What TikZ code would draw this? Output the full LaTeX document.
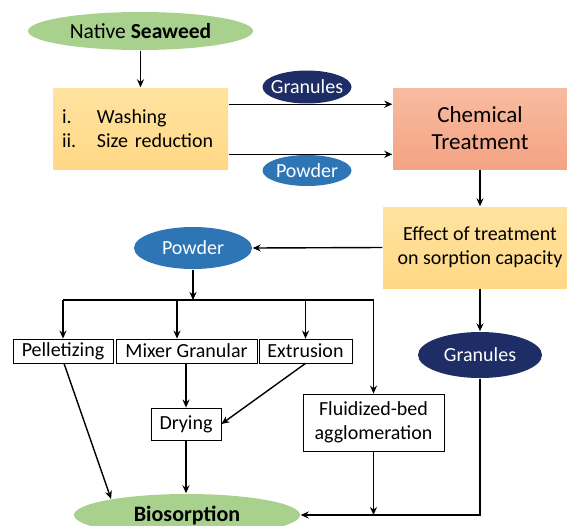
\documentclass[tikz,border=0pt]{standalone}
\usepackage{fontspec}
\setmainfont{Carlito}
\usetikzlibrary{shapes.geometric,arrows.meta}
\definecolor{leaf}{HTML}{A9D18E}
\definecolor{sand}{HTML}{FFD885}
\definecolor{sandlight}{HTML}{FFE3A0}
\definecolor{salmon}{HTML}{F4A383}
\definecolor{salmonlight}{HTML}{F8BBA0}
\definecolor{navy}{HTML}{1F2D66}
\definecolor{sky}{HTML}{2E75B6}
\begin{document}
\begin{tikzpicture}[x=1pt,y=-1pt,font=\fontsize{20}{24}\selectfont,
	>={Stealth[length=8pt,width=7pt]},line width=1.4pt,
	oval/.style={ellipse,inner sep=0pt,draw=none},
	panel/.style={rectangle,inner sep=0pt,draw=none},
	card/.style={rectangle,inner sep=0pt,draw,line width=0.8pt,fill=white,align=center}]
	\clip (0,0) rectangle (567,525);
	% top row
	\node[oval,fill=leaf,minimum width=225,minimum height=38,font=\fontsize{21.5}{26}\selectfont] (seaweed) at (140.5,31) {Native \textbf{Seaweed}};
	\node[panel,top color=sandlight,bottom color=sand,minimum width=175,minimum height=81,text width=157,align=left] (wash) at (140.5,128.5)
	{\makebox[35pt][l]{i.}Washing\\\makebox[35pt][l]{ii.}Size reduction};
	\node[panel,top color=salmonlight,bottom color=salmon,minimum width=174,minimum height=81,align=center,
	font=\fontsize{23}{27}\selectfont] (chem) at (480,128.5) {Chemical\\Treatment};
	\node[oval,fill=navy,text=white,minimum width=89,minimum height=33] (granA) at (307,87) {\makebox[0pt]{Granules}};
	\node[oval,fill=sky,text=white,minimum width=89,minimum height=31] (powA) at (307,170.5) {\makebox[0pt]{Powder}};
	% middle
	\node[panel,top color=sandlight,bottom color=sand,minimum width=194,minimum height=81,align=center] (effect) at (480,247.5)
	{Effect of treatment\\on sorption capacity};
	\node[oval,fill=sky,text=white,minimum width=118,minimum height=42] (powB) at (193,248) {Powder};
	\node[oval,fill=navy,text=white,minimum width=124,minimum height=46] (granB) at (480,355) {Granules};
	\coordinate (bus) at (0,300);
	% processes
	\node[card,minimum width=100,minimum height=24] (pel) at (63,351) {Pelletizing};
	\node[card,minimum width=141,minimum height=24] (mix) at (186.5,351) {Mixer Granular};
	\node[card,minimum width=93,minimum height=24] (ext) at (305.5,351) {Extrusion};
	\node[card,minimum width=70,minimum height=32] (dry) at (186,424) {Drying};
	\node[card,minimum width=141,minimum height=57] (flu) at (373.5,422.5) {Fluidized-bed\\agglomeration};
	\node[oval,fill=leaf,minimum width=226,minimum height=42,font=\fontsize{22}{26}\selectfont] (bio) at (187,515) {\textbf{Biosorption}};
	% connectors
	\draw[->] (seaweed) -- (seaweed |- wash.north);
	\draw[->] (wash.east |- granA.south) -- (chem.west |- granA.south);
	\draw[->] (wash.east |- powA.north) -- (chem.west |- powA.north);
	\draw[->] (chem) -- (effect);
	\draw[->] (effect.west) -- (powB.east);
	\draw[->] (effect) -- (granB);
	\draw[->] (powB.south) -- (powB.south |- bus);
	\draw (bus -| pel.north) -- (bus -| flu.north);
	\foreach \n/\dx in {pel/0,mix/-9.5,ext/0,flu/0}
	\draw[->] ([xshift=\dx pt]bus -| \n.north) -- ([xshift=\dx pt]\n.north);
	\draw[->] ([xshift=1pt]pel.south) -- (bio.168);
	\draw[->] (mix.south -| dry.north) -- (dry.north);
	\draw[->] (ext.south) -- (dry.east);
	\draw[->] (dry.south) -- (dry.south |- bio.north);
	\draw[->] (flu.south) -- (flu.south |- bio.east);
	\draw[->] (granB.south) -- (granB.south |- bio.east) -- (bio.east);
\end{tikzpicture}
\end{document}
